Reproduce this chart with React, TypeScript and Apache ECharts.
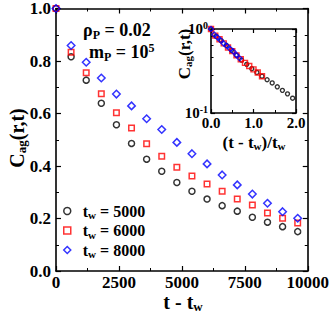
import React, { useEffect, useRef } from 'react';
import * as echarts from 'echarts';

// ---- data ----
const tMinusTw = [0, 600, 1200, 1800, 2400, 3000, 3600, 4200, 4800, 5400, 6000, 6600, 7200, 7800, 8400, 9000, 9600];
const cTw5000 = [1.0, 0.816, 0.727, 0.639, 0.557, 0.486, 0.426, 0.38, 0.337, 0.304, 0.274, 0.249, 0.228, 0.205, 0.186, 0.169, 0.15];
const cTw6000 = [1.0, 0.833, 0.755, 0.675, 0.603, 0.545, 0.485, 0.437, 0.395, 0.362, 0.331, 0.304, 0.274, 0.251, 0.221, 0.201, 0.183];
const cTw8000 = [1.0, 0.859, 0.795, 0.735, 0.674, 0.629, 0.58, 0.539, 0.49, 0.447, 0.408, 0.366, 0.328, 0.293, 0.258, 0.226, 0.201];
const waitingTimes = [5000, 6000, 8000];
const seriesValues = [cTw5000, cTw6000, cTw8000];
const insetPointCounts = [17, 13, 10];
const seriesSymbols = ['circle', 'rect', 'diamond'];
const seriesColors = ['#000000', '#ff0000', '#0000ff'];
const mainXTicks = [0, 2500, 5000, 7500, 10000];
const mainYTicks = [0, 0.2, 0.4, 0.6, 0.8, 1.0];
const insetXTicks = [0, 1, 2];

const FONT = '"Liberation Serif", "Times New Roman", serif';

function boxAxes(gridIndex: number, kind: 'x' | 'y', base: any) {
  const common = {
    gridIndex,
    axisLine: { show: true, onZero: false, lineStyle: { color: '#000', width: 1.6 } },
    axisTick: { show: true, inside: true, length: 5, lineStyle: { color: '#000', width: 1.2 } },
    minorTick: { show: true, splitNumber: 2, length: 3, lineStyle: { color: '#000', width: 1 } },
    splitLine: { show: false },
    minorSplitLine: { show: false },
    ...base,
  };
  const main = { ...common, position: kind === 'x' ? 'bottom' : 'left' };
  const opp = {
    ...common,
    position: kind === 'x' ? 'top' : 'right',
    axisLabel: { show: false },
  };
  return [main, opp];
}

export default function App() {
  const ref = useRef<HTMLDivElement>(null);
  useEffect(() => {
    if (!ref.current) return;
    const chart = echarts.init(ref.current, undefined, { renderer: 'svg' });

    const labelStyle = (size: number) => ({
      color: '#000',
      fontFamily: FONT,
      fontWeight: 'bold' as const,
      fontSize: size,
    });

    const mainX = boxAxes(0, 'x', {
      type: 'value',
      min: mainXTicks[0],
      max: mainXTicks[mainXTicks.length - 1],
      interval: mainXTicks[1] - mainXTicks[0],
      axisLabel: { ...labelStyle(17), lineHeight: 14, margin: 4, formatter: (v: number) => String(v) },
    });
    const mainY = boxAxes(0, 'y', {
      type: 'value',
      min: mainYTicks[0],
      max: mainYTicks[mainYTicks.length - 1],
      interval: mainYTicks[1] - mainYTicks[0],
      axisLabel: { ...labelStyle(17), lineHeight: 14, margin: 5, formatter: (v: number) => v.toFixed(1) },
    });
    const insetX = boxAxes(1, 'x', {
      type: 'value',
      min: insetXTicks[0],
      max: insetXTicks[insetXTicks.length - 1],
      interval: insetXTicks[1] - insetXTicks[0],
      axisTick: { show: true, inside: true, length: 4, lineStyle: { color: '#000', width: 1.2 } },
      axisLabel: { ...labelStyle(15), lineHeight: 12, margin: 4, formatter: (v: number) => v.toFixed(1) },
    });
    const insetY = boxAxes(1, 'y', {
      type: 'log',
      logBase: 10,
      min: 0.1,
      max: 1,
      axisTick: { show: true, inside: true, length: 4, lineStyle: { color: '#000', width: 1.2 } },
      minorTick: { show: true, splitNumber: 5, length: 2.5, lineStyle: { color: '#000', width: 1 } },
      axisLabel: {
        ...labelStyle(15),
        margin: 3,
        formatter: (v: number) => `{a|10}{b|${Math.round(Math.log10(v))}}`,
        rich: {
          a: { ...labelStyle(15), lineHeight: 13 },
          b: { ...labelStyle(10), lineHeight: 9, padding: [0, 0, 8, 0] },
        },
      },
    });

    const names = waitingTimes.map((tw) => `t_w = ${tw}`);
    const symbolSizes = [6, 5.5, 7.5];
    const insetSymbolSizes = [4, 5, 5];

    const mainSeries = waitingTimes.map((tw, i) => ({
      name: names[i],
      type: 'scatter',
      xAxisIndex: 0,
      yAxisIndex: 0,
      symbol: seriesSymbols[i],
      symbolSize: symbolSizes[i],
      itemStyle: { color: 'transparent', borderColor: seriesColors[i], borderWidth: 1.5 },
      data: tMinusTw.map((t, j) => [t, seriesValues[i][j]]),
      z: 2 + i,
    }));
    const insetSeries = waitingTimes.map((tw, i) => ({
      name: `inset ${names[i]}`,
      type: 'scatter',
      xAxisIndex: 2,
      yAxisIndex: 2,
      symbol: seriesSymbols[i],
      symbolSize: insetSymbolSizes[i],
      itemStyle: { color: 'transparent', borderColor: seriesColors[i], borderWidth: 1.4 },
      data: tMinusTw.slice(0, insetPointCounts[i]).map((t, j) => [t / tw, seriesValues[i][j]]),
      z: 2 + i,
    }));

    const m = (size: number) => ({ fontSize: size, fontWeight: 'bold', fontFamily: FONT, fill: '#000', color: '#000' });

    chart.setOption({
      animation: false,
      backgroundColor: '#fff',
      grid: [
        { left: 56, top: 7, width: 253, height: 264 },
        { left: 211, top: 29, width: 85, height: 84 },
      ],
      xAxis: [...mainX, ...insetX],
      yAxis: [...mainY, ...insetY],
      legend: {
        orient: 'vertical',
        left: 63,
        top: 201.5,
        padding: 0,
        itemGap: 0.5,
        itemWidth: 7,
        itemHeight: 7,
        data: names.map((n, i) => ({
          name: n,
          icon: seriesSymbols[i],
          itemStyle: { color: 'transparent', borderColor: seriesColors[i], borderWidth: 1.5 },
        })),
        formatter: (name: string) => `{t|t}{s|w}{m|${name.replace('t_w', '')}}`,
        textStyle: {
          color: '#000',
          rich: {
            t: { ...m(16), lineHeight: 16, padding: [0, 0, 0, 7] },
            s: { ...m(11), lineHeight: 11, padding: [8, 0, 0, 0] },
            m: { ...m(16), lineHeight: 16 },
          },
        },
      },
      graphic: [
        {
          type: 'text',
          x: 17,
          y: 138,
          rotation: Math.PI / 2,
          style: {
            text: '{m|C}{s|ag}{m|(r,t)}',
            align: 'center',
            verticalAlign: 'middle',
            rich: { m: { ...m(20), lineHeight: 18 }, s: { ...m(13), lineHeight: 11, padding: [9, 0, 0, 0] } },
          },
        },
        {
          type: 'text',
          x: 183,
          y: 301.5,
          style: {
            text: '{m|t - t}{s|w}',
            align: 'center',
            verticalAlign: 'middle',
            rich: { m: { ...m(20), lineHeight: 16 }, s: { ...m(13), lineHeight: 10, padding: [10, 0, 0, 0] } },
          },
        },
        {
          type: 'text',
          x: 83,
          y: 30,
          style: {
            text: '{m|ρ}{s|P}{m| = 0.02}',
            align: 'left',
            verticalAlign: 'middle',
            rich: { m: { ...m(18), lineHeight: 16 }, s: { ...m(12), lineHeight: 10, padding: [9, 0, 0, 0] } },
          },
        },
        {
          type: 'text',
          x: 89,
          y: 52,
          style: {
            text: '{m|m}{s|P}{m| = 10}{p|5}',
            align: 'left',
            verticalAlign: 'middle',
            rich: {
              m: { ...m(18), lineHeight: 16 },
              s: { ...m(12), lineHeight: 10, padding: [9, 0, 0, 0] },
              p: { ...m(12), lineHeight: 10, padding: [0, 0, 9, 0] },
            },
          },
        },
        {
          type: 'text',
          x: 184,
          y: 54,
          rotation: Math.PI / 2,
          style: {
            text: '{m|C}{s|ag}{m|(r,t)}',
            align: 'center',
            verticalAlign: 'middle',
            rich: { m: { ...m(17), lineHeight: 15 }, s: { ...m(11), lineHeight: 10, padding: [8, 0, 0, 0] } },
          },
        },
        {
          type: 'text',
          x: 254,
          y: 142,
          style: {
            text: '{m|(t - t}{s|w}{m|)/t}{s|w}',
            align: 'center',
            verticalAlign: 'middle',
            rich: { m: { ...m(17), lineHeight: 15 }, s: { ...m(11), lineHeight: 10, padding: [8, 0, 0, 0] } },
          },
        },
      ],
      series: [...mainSeries, ...insetSeries],
    });
    return () => chart.dispose();
  }, []);
  return <div ref={ref} style={{ width: 332, height: 314, position: 'absolute', left: 0, top: 0 }} />;
}
